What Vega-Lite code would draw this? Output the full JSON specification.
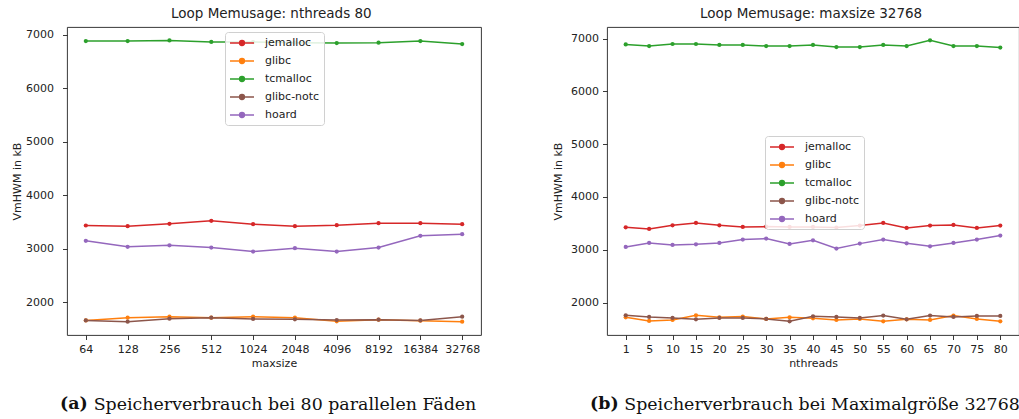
{
  "$schema": "https://vega.github.io/schema/vega-lite/v6.json",
  "padding": {"left": 11, "top": 7, "right": 0, "bottom": 0},
  "spacing": 70,
  "background": "white",
  "datasets": {
    "a": [
      {"maxsize": 64, "allocator": "jemalloc", "kb": 3435},
      {"maxsize": 128, "allocator": "jemalloc", "kb": 3422},
      {"maxsize": 256, "allocator": "jemalloc", "kb": 3467},
      {"maxsize": 512, "allocator": "jemalloc", "kb": 3523},
      {"maxsize": 1024, "allocator": "jemalloc", "kb": 3459},
      {"maxsize": 2048, "allocator": "jemalloc", "kb": 3422},
      {"maxsize": 4096, "allocator": "jemalloc", "kb": 3441},
      {"maxsize": 8192, "allocator": "jemalloc", "kb": 3478},
      {"maxsize": 16384, "allocator": "jemalloc", "kb": 3478},
      {"maxsize": 32768, "allocator": "jemalloc", "kb": 3459},
      {"maxsize": 64, "allocator": "glibc", "kb": 1663},
      {"maxsize": 128, "allocator": "glibc", "kb": 1714},
      {"maxsize": 256, "allocator": "glibc", "kb": 1732},
      {"maxsize": 512, "allocator": "glibc", "kb": 1714},
      {"maxsize": 1024, "allocator": "glibc", "kb": 1732},
      {"maxsize": 2048, "allocator": "glibc", "kb": 1714},
      {"maxsize": 4096, "allocator": "glibc", "kb": 1645},
      {"maxsize": 8192, "allocator": "glibc", "kb": 1676},
      {"maxsize": 16384, "allocator": "glibc", "kb": 1658},
      {"maxsize": 32768, "allocator": "glibc", "kb": 1639},
      {"maxsize": 64, "allocator": "tcmalloc", "kb": 6880},
      {"maxsize": 128, "allocator": "tcmalloc", "kb": 6880},
      {"maxsize": 256, "allocator": "tcmalloc", "kb": 6890},
      {"maxsize": 512, "allocator": "tcmalloc", "kb": 6862},
      {"maxsize": 1024, "allocator": "tcmalloc", "kb": 6860},
      {"maxsize": 2048, "allocator": "tcmalloc", "kb": 6850},
      {"maxsize": 4096, "allocator": "tcmalloc", "kb": 6843},
      {"maxsize": 8192, "allocator": "tcmalloc", "kb": 6850},
      {"maxsize": 16384, "allocator": "tcmalloc", "kb": 6880},
      {"maxsize": 32768, "allocator": "tcmalloc", "kb": 6824},
      {"maxsize": 64, "allocator": "glibc-notc", "kb": 1663},
      {"maxsize": 128, "allocator": "glibc-notc", "kb": 1639},
      {"maxsize": 256, "allocator": "glibc-notc", "kb": 1695},
      {"maxsize": 512, "allocator": "glibc-notc", "kb": 1714},
      {"maxsize": 1024, "allocator": "glibc-notc", "kb": 1689},
      {"maxsize": 2048, "allocator": "glibc-notc", "kb": 1682},
      {"maxsize": 4096, "allocator": "glibc-notc", "kb": 1670},
      {"maxsize": 8192, "allocator": "glibc-notc", "kb": 1676},
      {"maxsize": 16384, "allocator": "glibc-notc", "kb": 1663},
      {"maxsize": 32768, "allocator": "glibc-notc", "kb": 1732},
      {"maxsize": 64, "allocator": "hoard", "kb": 3149},
      {"maxsize": 128, "allocator": "hoard", "kb": 3036},
      {"maxsize": 256, "allocator": "hoard", "kb": 3066},
      {"maxsize": 512, "allocator": "hoard", "kb": 3023},
      {"maxsize": 1024, "allocator": "hoard", "kb": 2949},
      {"maxsize": 2048, "allocator": "hoard", "kb": 3011},
      {"maxsize": 4096, "allocator": "hoard", "kb": 2949},
      {"maxsize": 8192, "allocator": "hoard", "kb": 3023},
      {"maxsize": 16384, "allocator": "hoard", "kb": 3242},
      {"maxsize": 32768, "allocator": "hoard", "kb": 3272}
    ],
    "b": [
      {"nthreads": 1, "allocator": "jemalloc", "kb": 3426},
      {"nthreads": 5, "allocator": "jemalloc", "kb": 3394},
      {"nthreads": 10, "allocator": "jemalloc", "kb": 3464},
      {"nthreads": 15, "allocator": "jemalloc", "kb": 3508},
      {"nthreads": 20, "allocator": "jemalloc", "kb": 3464},
      {"nthreads": 25, "allocator": "jemalloc", "kb": 3432},
      {"nthreads": 30, "allocator": "jemalloc", "kb": 3439},
      {"nthreads": 35, "allocator": "jemalloc", "kb": 3432},
      {"nthreads": 40, "allocator": "jemalloc", "kb": 3432},
      {"nthreads": 45, "allocator": "jemalloc", "kb": 3420},
      {"nthreads": 50, "allocator": "jemalloc", "kb": 3458},
      {"nthreads": 55, "allocator": "jemalloc", "kb": 3508},
      {"nthreads": 60, "allocator": "jemalloc", "kb": 3413},
      {"nthreads": 65, "allocator": "jemalloc", "kb": 3458},
      {"nthreads": 70, "allocator": "jemalloc", "kb": 3470},
      {"nthreads": 75, "allocator": "jemalloc", "kb": 3413},
      {"nthreads": 80, "allocator": "jemalloc", "kb": 3458},
      {"nthreads": 1, "allocator": "glibc", "kb": 1722},
      {"nthreads": 5, "allocator": "glibc", "kb": 1652},
      {"nthreads": 10, "allocator": "glibc", "kb": 1671},
      {"nthreads": 15, "allocator": "glibc", "kb": 1759},
      {"nthreads": 20, "allocator": "glibc", "kb": 1722},
      {"nthreads": 25, "allocator": "glibc", "kb": 1735},
      {"nthreads": 30, "allocator": "glibc", "kb": 1690},
      {"nthreads": 35, "allocator": "glibc", "kb": 1722},
      {"nthreads": 40, "allocator": "glibc", "kb": 1703},
      {"nthreads": 45, "allocator": "glibc", "kb": 1671},
      {"nthreads": 50, "allocator": "glibc", "kb": 1690},
      {"nthreads": 55, "allocator": "glibc", "kb": 1646},
      {"nthreads": 60, "allocator": "glibc", "kb": 1684},
      {"nthreads": 65, "allocator": "glibc", "kb": 1671},
      {"nthreads": 70, "allocator": "glibc", "kb": 1753},
      {"nthreads": 75, "allocator": "glibc", "kb": 1690},
      {"nthreads": 80, "allocator": "glibc", "kb": 1646},
      {"nthreads": 1, "allocator": "tcmalloc", "kb": 6890},
      {"nthreads": 5, "allocator": "tcmalloc", "kb": 6860},
      {"nthreads": 10, "allocator": "tcmalloc", "kb": 6898},
      {"nthreads": 15, "allocator": "tcmalloc", "kb": 6898},
      {"nthreads": 20, "allocator": "tcmalloc", "kb": 6880},
      {"nthreads": 25, "allocator": "tcmalloc", "kb": 6880},
      {"nthreads": 30, "allocator": "tcmalloc", "kb": 6860},
      {"nthreads": 35, "allocator": "tcmalloc", "kb": 6860},
      {"nthreads": 40, "allocator": "tcmalloc", "kb": 6880},
      {"nthreads": 45, "allocator": "tcmalloc", "kb": 6840},
      {"nthreads": 50, "allocator": "tcmalloc", "kb": 6840},
      {"nthreads": 55, "allocator": "tcmalloc", "kb": 6880},
      {"nthreads": 60, "allocator": "tcmalloc", "kb": 6860},
      {"nthreads": 65, "allocator": "tcmalloc", "kb": 6968},
      {"nthreads": 70, "allocator": "tcmalloc", "kb": 6860},
      {"nthreads": 75, "allocator": "tcmalloc", "kb": 6860},
      {"nthreads": 80, "allocator": "tcmalloc", "kb": 6830},
      {"nthreads": 1, "allocator": "glibc-notc", "kb": 1759},
      {"nthreads": 5, "allocator": "glibc-notc", "kb": 1728},
      {"nthreads": 10, "allocator": "glibc-notc", "kb": 1709},
      {"nthreads": 15, "allocator": "glibc-notc", "kb": 1684},
      {"nthreads": 20, "allocator": "glibc-notc", "kb": 1709},
      {"nthreads": 25, "allocator": "glibc-notc", "kb": 1709},
      {"nthreads": 30, "allocator": "glibc-notc", "kb": 1690},
      {"nthreads": 35, "allocator": "glibc-notc", "kb": 1646},
      {"nthreads": 40, "allocator": "glibc-notc", "kb": 1741},
      {"nthreads": 45, "allocator": "glibc-notc", "kb": 1728},
      {"nthreads": 50, "allocator": "glibc-notc", "kb": 1709},
      {"nthreads": 55, "allocator": "glibc-notc", "kb": 1753},
      {"nthreads": 60, "allocator": "glibc-notc", "kb": 1684},
      {"nthreads": 65, "allocator": "glibc-notc", "kb": 1753},
      {"nthreads": 70, "allocator": "glibc-notc", "kb": 1728},
      {"nthreads": 75, "allocator": "glibc-notc", "kb": 1747},
      {"nthreads": 80, "allocator": "glibc-notc", "kb": 1747},
      {"nthreads": 1, "allocator": "hoard", "kb": 3053},
      {"nthreads": 5, "allocator": "hoard", "kb": 3129},
      {"nthreads": 10, "allocator": "hoard", "kb": 3091},
      {"nthreads": 15, "allocator": "hoard", "kb": 3104},
      {"nthreads": 20, "allocator": "hoard", "kb": 3129},
      {"nthreads": 25, "allocator": "hoard", "kb": 3193},
      {"nthreads": 30, "allocator": "hoard", "kb": 3212},
      {"nthreads": 35, "allocator": "hoard", "kb": 3110},
      {"nthreads": 40, "allocator": "hoard", "kb": 3180},
      {"nthreads": 45, "allocator": "hoard", "kb": 3023},
      {"nthreads": 50, "allocator": "hoard", "kb": 3117},
      {"nthreads": 55, "allocator": "hoard", "kb": 3193},
      {"nthreads": 60, "allocator": "hoard", "kb": 3123},
      {"nthreads": 65, "allocator": "hoard", "kb": 3066},
      {"nthreads": 70, "allocator": "hoard", "kb": 3129},
      {"nthreads": 75, "allocator": "hoard", "kb": 3193},
      {"nthreads": 80, "allocator": "hoard", "kb": 3269}
    ]
  },
  "hconcat": [
    {
      "title": {"text": "Loop Memusage: nthreads 80", "anchor": "start", "frame": "group", "dx": 104, "offset": -5, "baseline": "alphabetic"},
      "resolve": {"legend": {"color": "independent"}, "scale": {"color": "independent"}},
      "vconcat": [
        {
          "title": {"text": "(a)", "orient": "bottom", "anchor": "start", "frame": "group", "dx": -7, "offset": -4, "baseline": "alphabetic", "font": "DejaVu Serif", "fontSize": 17.4, "fontWeight": "bold", "color": "#111"},
          "resolve": {"legend": {"color": "independent"}, "scale": {"color": "independent"}},
          "vconcat": [
            {
              "title": {"text": "Speicherverbrauch bei 80 parallelen Fäden", "orient": "bottom", "anchor": "middle", "frame": "group", "dx": 11, "offset": 41, "baseline": "alphabetic", "font": "DejaVu Serif", "fontSize": 17.4, "fontWeight": "normal", "color": "#111"},
              "width": 414,
              "height": 308,
              "data": {"name": "a"},
              "encoding": {
                "x": {"field": "maxsize", "type": "ordinal", "sort": [64, 128, 256, 512, 1024, 2048, 4096, 8192, 16384, 32768], "scale": {"type": "point", "padding": 0.45}, "axis": {"title": "maxsize", "labelAngle": 0, "titlePadding": 3}},
                "y": {"field": "kb", "type": "quantitative", "scale": {"domain": [1390, 7142], "nice": false, "zero": false}, "axis": {"title": "VmHWM in kB", "values": [2000, 3000, 4000, 5000, 6000, 7000], "format": "d", "labelPadding": 9, "titlePadding": 3}},
                "color": {"field": "allocator", "type": "nominal", "scale": {"domain": ["jemalloc", "glibc", "tcmalloc", "glibc-notc", "hoard"], "range": ["#d62728", "#ff7f0e", "#2ca02c", "#8c564b", "#9467bd"]}, "legend": {"legendX": 158, "legendY": 5}}
              },
              "layer": [
                {"mark": {"type": "line", "strokeWidth": 1.5}},
                {"mark": {"type": "point", "filled": true, "size": 18, "opacity": 1}}
              ]
            }
          ]
        }
      ]
    },
    {
      "title": {"text": "Loop Memusage: maxsize 32768", "anchor": "start", "frame": "group", "dx": 93, "offset": -5, "baseline": "alphabetic"},
      "resolve": {"legend": {"color": "independent"}, "scale": {"color": "independent"}},
      "vconcat": [
        {
          "title": {"text": "(b)", "orient": "bottom", "anchor": "start", "frame": "group", "dx": -17, "offset": -4, "baseline": "alphabetic", "font": "DejaVu Serif", "fontSize": 17.4, "fontWeight": "bold", "color": "#111"},
          "resolve": {"legend": {"color": "independent"}, "scale": {"color": "independent"}},
          "vconcat": [
            {
              "title": {"text": "Speicherverbrauch bei Maximalgröße 32768", "orient": "bottom", "anchor": "middle", "frame": "group", "dx": 9, "offset": 41, "baseline": "alphabetic", "font": "DejaVu Serif", "fontSize": 17.4, "fontWeight": "normal", "color": "#111"},
              "width": 412,
              "height": 308,
              "data": {"name": "b"},
              "encoding": {
                "x": {"field": "nthreads", "type": "ordinal", "sort": [1, 5, 10, 15, 20, 25, 30, 35, 40, 45, 50, 55, 60, 65, 70, 75, 80], "scale": {"type": "point", "padding": 0.8}, "axis": {"title": "nthreads", "labelAngle": 0, "titlePadding": 3}},
                "y": {"field": "kb", "type": "quantitative", "scale": {"domain": [1386, 7220], "nice": false, "zero": false}, "axis": {"title": "VmHWM in kB", "values": [2000, 3000, 4000, 5000, 6000, 7000], "format": "d", "labelPadding": 4, "titlePadding": 7}},
                "color": {"field": "allocator", "type": "nominal", "scale": {"domain": ["jemalloc", "glibc", "tcmalloc", "glibc-notc", "hoard"], "range": ["#d62728", "#ff7f0e", "#2ca02c", "#8c564b", "#9467bd"]}, "legend": {"legendX": 158, "legendY": 109}}
              },
              "layer": [
                {"mark": {"type": "line", "strokeWidth": 1.5}},
                {"mark": {"type": "point", "filled": true, "size": 18, "opacity": 1}}
              ]
            }
          ]
        }
      ]
    }
  ],
  "resolve": {"legend": {"color": "independent"}, "scale": {"color": "independent", "x": "independent", "y": "independent"}},
  "config": {
    "font": "DejaVu Sans",
    "view": {"stroke": "#222", "strokeWidth": 0.9},
    "axis": {"grid": false, "domain": false, "tickColor": "#222", "tickSize": 4.5, "tickWidth": 0.9, "labelFont": "DejaVu Sans", "labelFontSize": 11, "labelColor": "#222", "titleFont": "DejaVu Sans", "titleFontSize": 11, "titleFontWeight": "normal", "titleColor": "#222", "labelPadding": 4},
    "title": {"font": "DejaVu Sans", "fontSize": 13.5, "fontWeight": "normal", "color": "#222"},
    "legend": {"title": null, "orient": "none", "fillColor": "rgba(255,255,255,0.85)", "strokeColor": "#d0d0d0", "cornerRadius": 3, "padding": 4, "symbolType": "M-2,0H2M-0.4,0A0.4,0.4,0,1,1,0.4,0A0.4,0.4,0,1,1,-0.4,0Z", "symbolSize": 144, "symbolStrokeWidth": 1.5, "symbolOffset": 6, "labelOffset": 16, "labelFont": "DejaVu Sans", "labelFontSize": 11, "labelColor": "#222", "rowPadding": 5, "labelLimit": 200}
  }
}
